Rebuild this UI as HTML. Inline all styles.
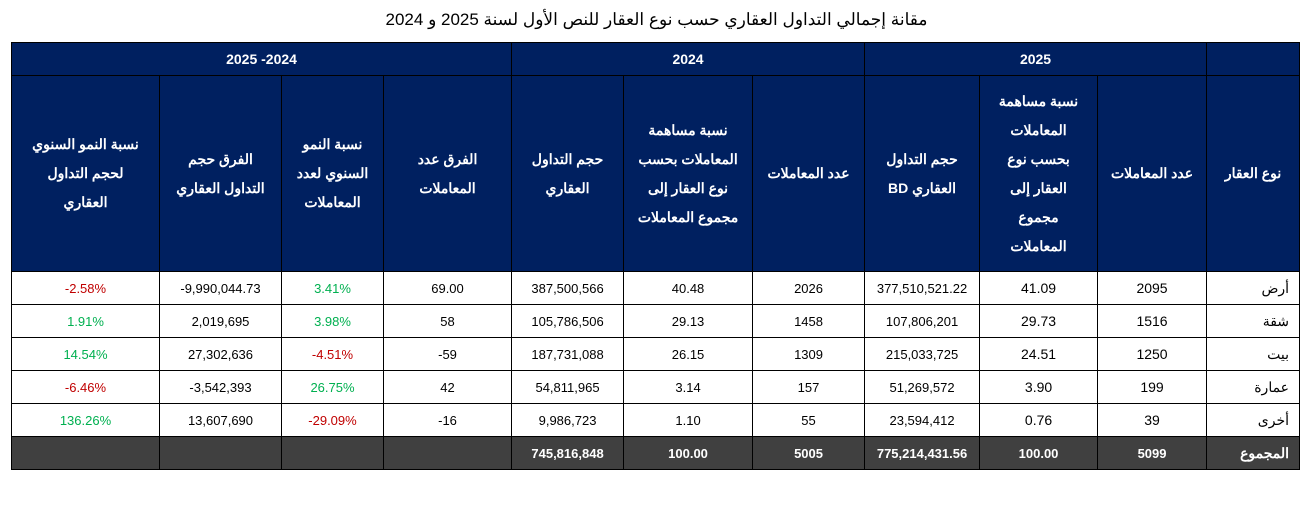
<!DOCTYPE html>
<html><head><meta charset="utf-8"><style>
body{margin:0;background:#fff;width:1313px;height:505px;overflow:hidden;font-family:"Liberation Sans","Noto Sans CJK SC",sans-serif;}
.title{position:absolute;top:10px;left:0;width:1313px;text-align:center;font-size:17px;color:#000;}
table{position:absolute;left:11px;top:42px;border-collapse:collapse;table-layout:fixed;width:1289px;}
td{border:1px solid #000;text-align:center;font-size:13px;padding:0;color:#000;unicode-bidi:plaintext;}
.h td{background:#002060;color:#fff;font-weight:bold;font-size:14px;line-height:29px;}
.h1 td{height:32px;}
.h2 td{height:195px;}
.d td{height:32px;}
.t td{background:#404040;color:#fff;font-weight:bold;height:32px;}
.r{color:#c00000 !important}.g{color:#00b050 !important}
.nm{text-align:right;padding-right:10px;font-size:14px;}
.big{font-size:14px}
.n{direction:ltr;unicode-bidi:isolate;}
</style></head><body>
<div class="title" dir="rtl">مقانة إجمالي التداول العقاري حسب نوع العقار للنص الأول لسنة 2025 و 2024</div>
<table dir="ltr">
<colgroup><col style="width:148px"><col style="width:122px"><col style="width:102px"><col style="width:128px"><col style="width:112px"><col style="width:129px"><col style="width:112px"><col style="width:115px"><col style="width:118px"><col style="width:109px"><col style="width:93px"></colgroup>
<tr class="h h1"><td colspan="4">2025 -2024</td><td colspan="3">2024</td><td colspan="3">2025</td><td></td></tr>
<tr class="h h2" dir="rtl">
<td style="padding:0 18px">نسبة النمو السنوي لحجم التداول العقاري</td>
<td style="padding:0 10px">الفرق حجم التداول العقاري</td>
<td style="padding:0 10px">نسبة النمو السنوي لعدد المعاملات</td>
<td style="padding:0 30px">الفرق عدد المعاملات</td>
<td style="padding:0 18px">حجم التداول العقاري</td>
<td style="padding:0 8px">نسبة مساهمة المعاملات بحسب نوع العقار إلى مجموع المعاملات</td>
<td>عدد المعاملات</td>
<td style="padding:0 18px">حجم التداول العقاري BD</td>
<td style="padding:0 18px">نسبة مساهمة المعاملات بحسب نوع العقار إلى مجموع المعاملات</td>
<td>عدد المعاملات</td>
<td>نوع العقار</td></tr>
<tr class="d"><td class="r"><span class="n">-2.58%</span></td><td><span class="n">-9,990,044.73</span></td><td class="g">3.41%</td><td>69.00</td><td>387,500,566</td><td>40.48</td><td>2026</td><td>377,510,521.22</td><td class="big">41.09</td><td class="big">2095</td><td class="nm" dir="rtl">أرض</td></tr>
<tr class="d"><td class="g">1.91%</td><td>2,019,695</td><td class="g">3.98%</td><td>58</td><td>105,786,506</td><td>29.13</td><td>1458</td><td>107,806,201</td><td class="big">29.73</td><td class="big">1516</td><td class="nm" dir="rtl">شقة</td></tr>
<tr class="d"><td class="g">14.54%</td><td>27,302,636</td><td class="r"><span class="n">-4.51%</span></td><td><span class="n">-59</span></td><td>187,731,088</td><td>26.15</td><td>1309</td><td>215,033,725</td><td class="big">24.51</td><td class="big">1250</td><td class="nm" dir="rtl">بيت</td></tr>
<tr class="d"><td class="r"><span class="n">-6.46%</span></td><td><span class="n">-3,542,393</span></td><td class="g">26.75%</td><td>42</td><td>54,811,965</td><td>3.14</td><td>157</td><td>51,269,572</td><td class="big">3.90</td><td class="big">199</td><td class="nm" dir="rtl">عمارة</td></tr>
<tr class="d"><td class="g">136.26%</td><td>13,607,690</td><td class="r"><span class="n">-29.09%</span></td><td><span class="n">-16</span></td><td>9,986,723</td><td>1.10</td><td>55</td><td>23,594,412</td><td class="big">0.76</td><td class="big">39</td><td class="nm" dir="rtl">أخرى</td></tr>
<tr class="t"><td></td><td></td><td></td><td></td><td>745,816,848</td><td>100.00</td><td>5005</td><td>775,214,431.56</td><td>100.00</td><td>5099</td><td class="nm" dir="rtl">المجموع</td></tr>
</table>
</body></html>
